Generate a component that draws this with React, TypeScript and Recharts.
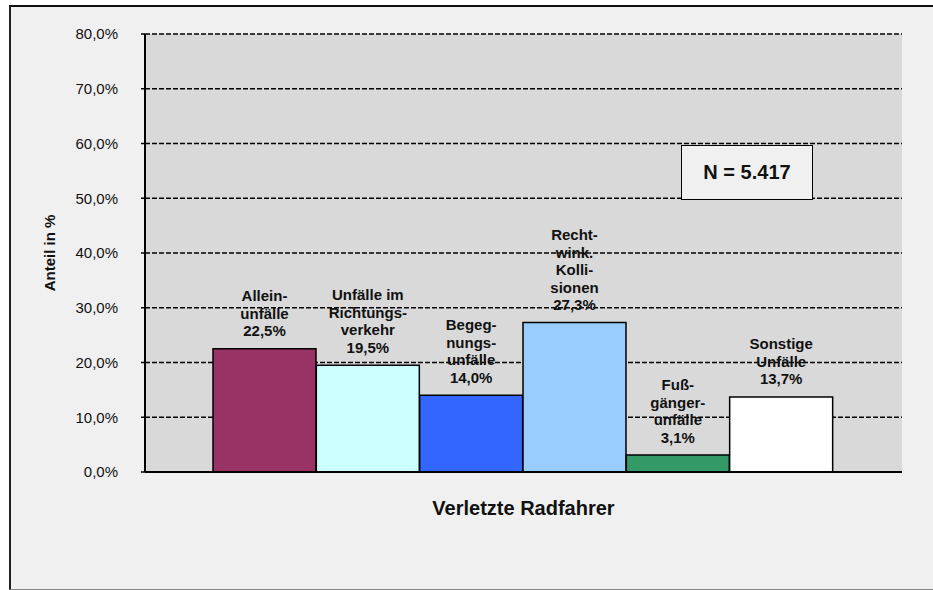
import { BarChart, Bar, XAxis, YAxis, CartesianGrid, Cell, LabelList } from 'recharts';

const categories = [
  'Alleinunfälle',
  'Unfälle im Richtungsverkehr',
  'Begegnungsunfälle',
  'Rechtwinklige Kollisionen',
  'Fußgängerunfälle',
  'Sonstige Unfälle',
];
const labelLines = [
  ['Allein-', 'unfälle'],
  ['Unfälle im', 'Richtungs-', 'verkehr'],
  ['Begeg-', 'nungs-', 'unfälle'],
  ['Recht-', 'wink.', 'Kolli-', 'sionen'],
  ['Fuß-', 'gänger-', 'unfälle'],
  ['Sonstige', 'Unfälle'],
];
const shares = [22.5, 19.5, 14.0, 27.3, 3.1, 13.7];
const barColors = ['#993366', '#CCFFFF', '#3366FF', '#99CCFF', '#339966', '#FFFFFF'];
const yTicks = [0, 10, 20, 30, 40, 50, 60, 70, 80];
const xTitle = 'Verletzte Radfahrer';
const yTitle = 'Anteil in %';
const sampleNote = 'N = 5.417';

const data = categories.map((name, i) => ({ name, value: shares[i] }));

const font = '"Liberation Sans", Arial, Helvetica, sans-serif';
const pct = (v: number) => v.toFixed(1).replace('.', ',') + '%';

function BarLabel(props: any) {
  const { x, y, width, index, value } = props;
  const lines = [...labelLines[index], pct(value)];
  const cx = x + width / 2;
  const base = y - 12.5;
  return (
    <text textAnchor="middle" fontFamily={font} fontWeight="bold" fontSize={15} fill="#111">
      {lines.map((l, i) => (
        <tspan key={i} x={cx} y={base - (lines.length - 1 - i) * 17.5}>
          {l}
        </tspan>
      ))}
    </text>
  );
}

export default function App() {
  return (
    <div style={{ position: 'absolute', left: 0, top: 0, width: 933, height: 590, background: '#fff' }}>
      {/* outer chart frame */}
      <div
        style={{
          position: 'absolute',
          left: 9,
          top: 5,
          width: 922,
          height: 582,
          background: '#F0F0F0',
          borderLeft: '2px solid #222',
          borderTop: '2px solid #111',
          borderBottom: '1px solid #888',
          borderRight: '1px solid #bbb',
        }}
      />
      <div style={{ position: 'absolute', left: 0, top: 0 }}>
        <BarChart
          width={933}
          height={590}
          data={data}
          margin={{ top: 34, right: 31, bottom: 78, left: 0 }}
          barCategoryGap={0}
        >
          <CartesianGrid
            vertical={false}
            fill="#D9D9D9"
            fillOpacity={1}
            stroke="#000"
            strokeWidth={1.3}
            strokeDasharray="5 2"
          />
          <XAxis
            dataKey="name"
            tick={false}
            tickLine={false}
            height={40}
            padding={{ left: 68, right: 69 }}
            axisLine={{ stroke: '#000', strokeWidth: 2 }}
            label={{
              content: (p: any) => (
                <text
                  x={p.viewBox.x + p.viewBox.width / 2}
                  y={515}
                  textAnchor="middle"
                  fontFamily={font}
                  fontWeight="bold"
                  fontSize={20}
                  fill="#111"
                >
                  {xTitle}
                </text>
              ),
            }}
          />
          <YAxis
            width={145}
            domain={[0, 80]}
            ticks={yTicks}
            interval={0}
            tickFormatter={pct}
            tickSize={4}
            tickMargin={23}
            tickLine={{ stroke: '#000', strokeWidth: 1.5 }}
            axisLine={{ stroke: '#000', strokeWidth: 2 }}
            tick={{ fill: '#111', fontSize: 15, fontFamily: font }}
            label={{
              content: (p: any) => (
                <text
                  transform={`translate(55, ${p.viewBox.y + p.viewBox.height / 2}) rotate(-90)`}
                  textAnchor="middle"
                  fontFamily={font}
                  fontWeight="bold"
                  fontSize={15}
                  fill="#111"
                >
                  {yTitle}
                </text>
              ),
            }}
          />
          <YAxis
            yAxisId="right"
            orientation="right"
            width={0}
            domain={[0, 80]}
            tick={false}
            tickLine={false}
            axisLine={{ stroke: '#333', strokeWidth: 2 }}
          />
          <Bar dataKey="value" stroke="#000" strokeWidth={1.5} isAnimationActive={false}>
            {data.map((_, i) => (
              <Cell key={i} fill={barColors[i]} />
            ))}
            <LabelList dataKey="value" content={BarLabel} />
          </Bar>
        </BarChart>
      </div>
      <div
        style={{
          position: 'absolute',
          left: 681,
          top: 145,
          width: 130,
          height: 53,
          border: '1px solid #000',
          background: '#F0F0F0',
          display: 'flex',
          alignItems: 'center',
          justifyContent: 'center',
          fontFamily: font,
          fontWeight: 'bold',
          fontSize: 20,
          color: '#111',
        }}
      >
        {sampleNote}
      </div>
    </div>
  );
}
